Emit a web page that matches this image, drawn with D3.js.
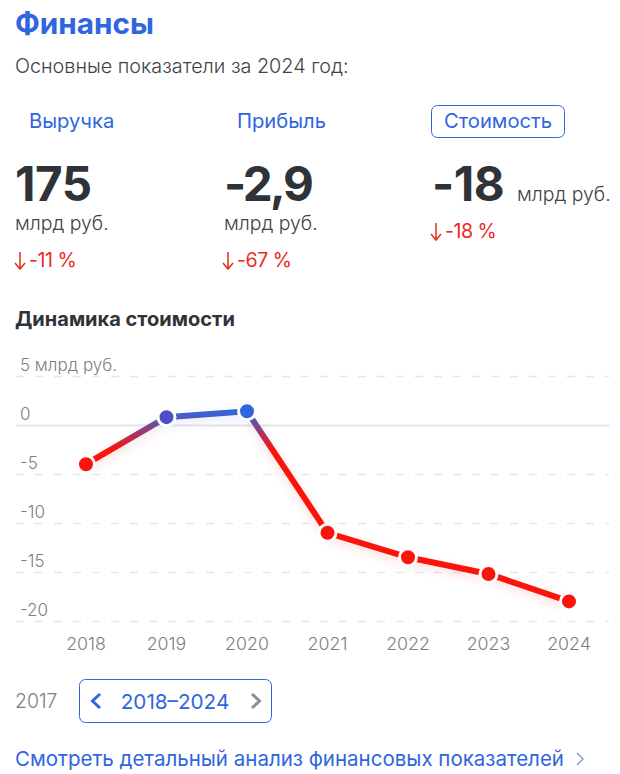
<!DOCTYPE html>
<html>
<head>
<meta charset="utf-8">
<script src="https://cdn.jsdelivr.net/npm/d3@7"></script>
<style>
html, body { margin: 0; padding: 0; background: #fff; }
svg { display: block; }
text { font-family: Inter, "Noto Sans", sans-serif; }
</style>
</head>
<body>
<div id="chart"></div>
<script>
var years = [2018, 2019, 2020, 2021, 2022, 2023, 2024];
var values = [-4, 0.8, 1.4, -11, -13.5, -15.2, -18];
var yTicks = [5, 0, -5, -10, -15, -20];
var yTickLabels = ["5 млрд руб.", "0", "-5", "-10", "-15", "-20"];

var metricNames = ["Выручка", "Прибыль", "Стоимость"];
var metricValues = ["175", "-2,9", "-18"];
var metricChanges = ["-11 %", "-67 %", "-18 %"];

var blue = "#2f66e0";
var red = "#fa140c";
var textRed = "#ec2a1f";
var dark = "#2f3338";

var width = 620, height = 774;

var svg = d3.select("#chart").append("svg")
  .attr("width", width)
  .attr("height", height);

var defs = svg.append("defs");

// header
svg.append("text").attr("x", 15).attr("y", 34)
  .attr("font-size", 29.7).attr("font-weight", 700).attr("fill", blue)
  .text("Финансы");
svg.append("text").attr("x", 15).attr("y", 73)
  .attr("font-size", 19.8).attr("font-weight", 300).attr("fill", "#3f4348")
  .text("Основные показатели за 2024 год:");

// three metric columns
var nameX = [29, 237, 444];
var valueX = [15, 224, 432];

metricNames.forEach(function(name, i) {
  svg.append("text").attr("x", nameX[i]).attr("y", 128)
    .attr("font-size", 20.2).attr("fill", blue).text(name);
  svg.append("text").attr("x", valueX[i]).attr("y", 201)
    .attr("font-size", 47.5).attr("font-weight", 700).attr("fill", dark)
    .attr("letter-spacing", i == 1 ? -2.5 : -0.5) // comma sits tight in the middle one
    .text(metricValues[i]);
});

svg.append("rect").attr("x", 431.5).attr("y", 105.5).attr("width", 133).attr("height", 32)
  .attr("rx", 6).attr("fill", "none").attr("stroke", blue).attr("stroke-width", 1);

// units and changes: the third column has its unit beside the number
var unitPos = [[15, 230], [224, 230], [517, 201]];
var changePos = [[15, 267], [223, 267], [431, 238]];

unitPos.forEach(function(p) {
  svg.append("text").attr("x", p[0]).attr("y", p[1])
    .attr("font-size", 19.4).attr("font-weight", 300).attr("fill", "#3f4348").text("млрд руб.");
});

changePos.forEach(function(p, i) {
  svg.append("path")
    .attr("d", "M" + (p[0] + 5) + " " + (p[1] - 15) + "V" + (p[1] + 2) + "M" + p[0] + " " + (p[1] - 4) + "L" + (p[0] + 5) + " " + (p[1] + 2) + "L" + (p[0] + 10) + " " + (p[1] - 4))
    .attr("fill", "none").attr("stroke", textRed).attr("stroke-width", 1.5);
  svg.append("text").attr("x", p[0] + 14).attr("y", p[1])
    .attr("font-size", 19.6).attr("fill", textRed).attr("letter-spacing", -0.5)
    .text(metricChanges[i]);
});

svg.append("text").attr("x", 15).attr("y", 326)
  .attr("font-size", 20).attr("font-weight", 700).attr("fill", dark)
  .text("Динамика стоимости");

// chart
var x = d3.scalePoint().domain(years).range([86, 569]);
var y = d3.scaleLinear().domain([5, -20]).range([376, 621]);

var yAxis = d3.axisLeft(y)
  .tickValues(yTicks)
  .tickSize(0)
  .tickFormat(function(d, i) { return yTickLabels[i]; });

var yG = svg.append("g").call(yAxis);
yG.select(".domain").remove();
yG.selectAll("text")
  .attr("x", 20).attr("dy", -6)
  .attr("text-anchor", "start")
  .attr("font-size", 17)
  .attr("font-family", "Inter")
  .attr("font-weight", 300)
  .attr("fill", "#7b7f84");
yG.selectAll(".tick").append("line")
  .attr("x1", 16).attr("x2", 609)
  .attr("stroke", function(d) { return d == 0 ? "#e3e6ea" : "#e6e6e6"; })
  .attr("stroke-width", function(d) { return d == 0 ? 2 : 1.5; })
  .attr("stroke-dasharray", function(d) { return d == 0 ? null : "8 11"; });

var xAxis = d3.axisBottom(x).tickSize(0);
var xG = svg.append("g").attr("transform", "translate(-0.5,634)").call(xAxis);
xG.select(".domain").remove();
xG.selectAll("text")
  .attr("y", 0).attr("dy", "0.9em")
  .attr("font-size", 17.8)
  .attr("font-family", "Inter")
  .attr("font-weight", 300)
  .attr("fill", "#7b7f84");

// line colour depends on the value: blue above zero, red below
var grad = defs.append("linearGradient")
  .attr("id", "lineColor")
  .attr("gradientUnits", "userSpaceOnUse")
  .attr("x1", 0).attr("x2", 0)
  .attr("y1", y(1.4)).attr("y2", y(-2.5));
grad.append("stop").attr("offset", "0%").attr("stop-color", blue);
grad.append("stop").attr("offset", "100%").attr("stop-color", red);

var glow = defs.append("filter").attr("id", "glow")
  .attr("x", "-20%").attr("y", "-20%").attr("width", "140%").attr("height", "140%");
glow.append("feGaussianBlur").attr("stdDeviation", 5);

var line = d3.line()
  .x(function(d, i) { return x(years[i]); })
  .y(function(d) { return y(d); });

svg.append("path").datum(values)
  .attr("d", line)
  .attr("fill", "none")
  .attr("stroke", "url(#lineColor)")
  .attr("stroke-opacity", 0.15)
  .attr("stroke-width", 6)
  .attr("transform", "translate(0,4)")
  .attr("filter", "url(#glow)");

svg.append("path").datum(values)
  .attr("d", line)
  .attr("fill", "none")
  .attr("stroke", "url(#lineColor)")
  .attr("stroke-width", 6);

svg.selectAll(".pt").data(values).enter().append("circle")
  .attr("class", "pt")
  .attr("cx", function(d, i) { return x(years[i]); })
  .attr("cy", function(d) { return y(d); })
  .attr("r", 8.5)
  .attr("fill", function(d) {
    if (d >= 1) return blue;
    if (d >= 0) return "#4d50c4";
    return red;
  })
  .attr("stroke", "#fff")
  .attr("stroke-width", 3);

// period switcher
svg.append("text").attr("x", 15).attr("y", 708)
  .attr("font-size", 19.4).attr("font-weight", 300).attr("fill", "#7b7f84").text("2017");
svg.append("rect").attr("x", 79.5).attr("y", 679.5).attr("width", 192).attr("height", 43)
  .attr("rx", 6).attr("fill", "none").attr("stroke", blue).attr("stroke-width", 1);
svg.append("path").attr("d", "M100 694L92.5 701L100 708")
  .attr("fill", "none").attr("stroke", blue).attr("stroke-width", 3);
svg.append("text").attr("x", 175).attr("y", 709).attr("text-anchor", "middle")
  .attr("font-size", 20.7).attr("fill", blue).text("2018–2024");
svg.append("path").attr("d", "M252 694L259.5 701L252 708")
  .attr("fill", "none").attr("stroke", "#8a8fa0").attr("stroke-width", 3);

// bottom link
svg.append("text").attr("x", 15).attr("y", 766)
  .attr("font-size", 20.5).attr("fill", blue)
  .text("Смотреть детальный анализ финансовых показателей");
svg.append("path").attr("d", "M577 753L583 759L577 765")
  .attr("fill", "none").attr("stroke", "#7f94c8").attr("stroke-width", 1.3);
</script>
</body>
</html>
